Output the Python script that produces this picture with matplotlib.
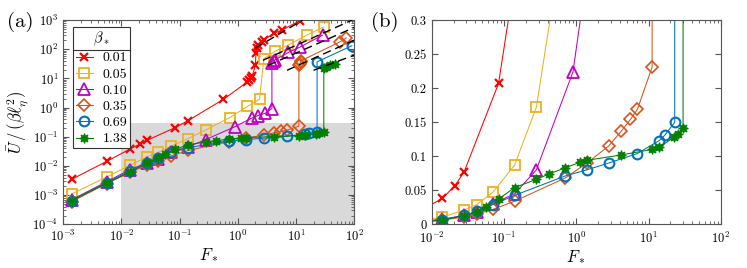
import matplotlib
matplotlib.use("Agg")
import matplotlib.pyplot as plt
from matplotlib.lines import Line2D
import numpy as np

plt.rcParams["font.family"] = "serif"
plt.rcParams["font.serif"] = ["cmr10"]
plt.rcParams["mathtext.fontset"] = "cm"
plt.rcParams["axes.formatter.use_mathtext"] = True
plt.rcParams["axes.unicode_minus"] = False

# ---- data: F_* and U/(beta l^2) for each beta_* ----
beta_labels = ["0.01", "0.05", "0.10", "0.35", "0.69", "1.38"]

F_001 = [0.0014, 0.0056, 0.014, 0.021, 0.028, 0.084, 0.14, 0.56, 1.46, 1.55, 1.68, 1.76,
         2.0, 2.05, 2.12, 2.26, 2.59, 2.76, 4.1, 5.7, 11.7]
U_001 = [0.0035, 0.0144, 0.038, 0.057, 0.077, 0.207, 0.36, 1.9, 7.6, 8.7, 10, 12,
         28, 75, 107, 138, 180, 206, 350, 455, 960]

F_005 = [0.0014, 0.0056, 0.014, 0.028, 0.042, 0.07, 0.14, 0.28, 0.72, 1.46, 2.36,
         2.8, 4.4, 7.4, 15.4, 29.7]
U_005 = [0.0011, 0.0042, 0.0105, 0.021, 0.029, 0.047, 0.087, 0.172, 0.45, 1.1, 1.94,
         48, 86, 142, 305, 580]

F_010 = [0.0014, 0.0056, 0.014, 0.028, 0.042, 0.07, 0.14, 0.28, 0.9, 1.74, 2.2, 2.95,
         3.85, 3.85, 4.1, 4.4, 7.4, 11.6, 28.5]
U_010 = [0.0007, 0.0029, 0.0075, 0.013, 0.018, 0.03, 0.045, 0.08, 0.224, 0.44, 0.53, 0.64,
         0.93, 35, 40, 44, 78, 118, 305]

F_035 = [0.0014, 0.0056, 0.014, 0.028, 0.042, 0.07, 0.14, 0.7, 1.4, 2.8, 4.2, 5.6, 7.0,
         11.2, 11.2, 11.6, 12.0, 12.4, 57, 73]
U_035 = [0.0006, 0.0025, 0.006, 0.011, 0.015, 0.022, 0.034, 0.068, 0.09, 0.115, 0.137,
         0.154, 0.169, 0.231, 28, 32, 36, 41, 180, 245]

F_069 = [0.0014, 0.0056, 0.014, 0.028, 0.042, 0.07, 0.14, 0.7, 1.4, 2.8, 7.0, 14.0,
         16.8, 23.0, 23.0, 91]
U_069 = [0.00065, 0.0027, 0.0068, 0.013, 0.019, 0.029, 0.0425, 0.071, 0.080, 0.090,
         0.104, 0.123, 0.131, 0.150, 37, 132]

F_138 = [0.0014, 0.0056, 0.014, 0.028, 0.042, 0.056, 0.084, 0.14, 0.28, 0.42, 0.7, 1.12,
         1.4, 4.2, 11.2, 14.0, 22.4, 25.2, 30, 30, 33, 39, 47]
U_138 = [0.00065, 0.0026, 0.0062, 0.0125, 0.0185, 0.026, 0.037, 0.054, 0.066, 0.074,
         0.083, 0.091, 0.094, 0.102, 0.110, 0.113, 0.128, 0.132, 0.142, 22, 25, 28.5, 32]

# dashed reference lines on the upper branch (start / end points)
dash_F0 = [2.0, 2.7, 3.3, 7.0, 20.0]
dash_U0 = [110, 42, 28, 19, 19]
dash_F1 = [13.0, 92, 100, 100, 100]
dash_U1 = [1000, 1000, 560, 205, 63]

# shaded region of panel (a) that panel (b) zooms into
shade_F = [1e-2, 1e2]
shade_U = [1e-4, 0.3]

b_yticks = [0, 0.05, 0.1, 0.15, 0.2, 0.25, 0.3]
b_yticklabels = ["0", "0.05", "0.1", "0.15", "0.2", "0.25", "0.3"]

series = [
    (F_001, U_001, dict(color="#FF0000", marker="x", ms=5.5, mew=1.6, mfc="none")),
    (F_005, U_005, dict(color="#EDB120", marker="s", ms=6.5, mew=1.3, mfc="none")),
    (F_010, U_010, dict(color="#C000C0", marker="^", ms=8, mew=1.3, mfc="none")),
    (F_035, U_035, dict(color="#D95319", marker="D", ms=6, mew=1.2, mfc="none")),
    (F_069, U_069, dict(color="#0072BD", marker="o", ms=7, mew=1.5, mfc="none")),
    (F_138, U_138, dict(color="#008000", marker=(8, 1, 0), ms=7, mew=0.8)),
]

fig = plt.figure(figsize=(7.47, 2.68), dpi=100)
axa = fig.add_axes([0.0847, 0.163, 0.3895, 0.762])
axb = fig.add_axes([0.578, 0.163, 0.387, 0.762])

handles = []
for ax in (axa, axb):
    for F, U, st in series:
        h, = ax.plot(F, U, lw=0.75, **st)
        if ax is axa:
            handles.append(h)

axa.fill_between(shade_F, shade_U[0], shade_U[1], color="#d9d9d9", lw=0, zorder=0)
for f0, u0, f1, u1 in zip(dash_F0, dash_U0, dash_F1, dash_U1):
    axa.plot([f0, f1], [u0, u1], color="k", lw=1.0, ls=(0, (6, 3.5)), zorder=5)

axa.set_xscale("log")
axa.set_yscale("log")
axa.set_xlim(1e-3, 1e2)
axa.set_ylim(1e-4, 1e3)
axa.set_yticks([10.0 ** k for k in range(-4, 4)])
axa.set_xlabel(r"$F_*$", fontsize=12, labelpad=1)
axa.set_ylabel(r"$\bar{U}\,/\,(\beta\ell_\eta^2)$", fontsize=12, labelpad=2)

axb.set_xscale("log")
axb.set_xlim(1e-2, 1e2)
axb.set_ylim(0, 0.3)
axb.set_yticks(b_yticks)
axb.set_yticklabels(b_yticklabels)
axb.set_xlabel(r"$F_*$", fontsize=12, labelpad=1)

for ax in (axa, axb):
    ax.tick_params(which="both", direction="in", top=True, right=True, labelsize=9,
                   color="#555555")
    ax.tick_params(which="major", length=4)
    ax.tick_params(which="minor", length=2)
    for s in ax.spines.values():
        s.set_color("#555555")
        s.set_linewidth(0.8)
axb.tick_params(axis="x", pad=5)

fig.text(0.01, 0.92, "(a)", fontsize=15, va="center")
fig.text(0.497, 0.92, "(b)", fontsize=15, va="center")

leg = axa.legend(handles, beta_labels, title=r"$\beta_*$", loc="upper left",
                 bbox_to_anchor=(0.034, 0.966), borderaxespad=0, fontsize=10,
                 title_fontsize=10.5, fancybox=False, edgecolor="#333333",
                 framealpha=1, labelspacing=0.25, handletextpad=0.7,
                 handlelength=1.2, borderpad=0.2)
leg.get_frame().set_linewidth(0.8)

fig.canvas.draw()
fb = leg.get_frame().get_window_extent()
tb = leg.get_title().get_window_extent()
inv = fig.transFigure.inverted()
(x0, y0), (x1, _) = inv.transform([(fb.x0, tb.y0 - 2), (fb.x1, tb.y0 - 2)])
fig.add_artist(Line2D([x0, x1], [y0, y0], transform=fig.transFigure,
                      color="#333333", lw=0.8))

fig.savefig("out.png", dpi=100)
